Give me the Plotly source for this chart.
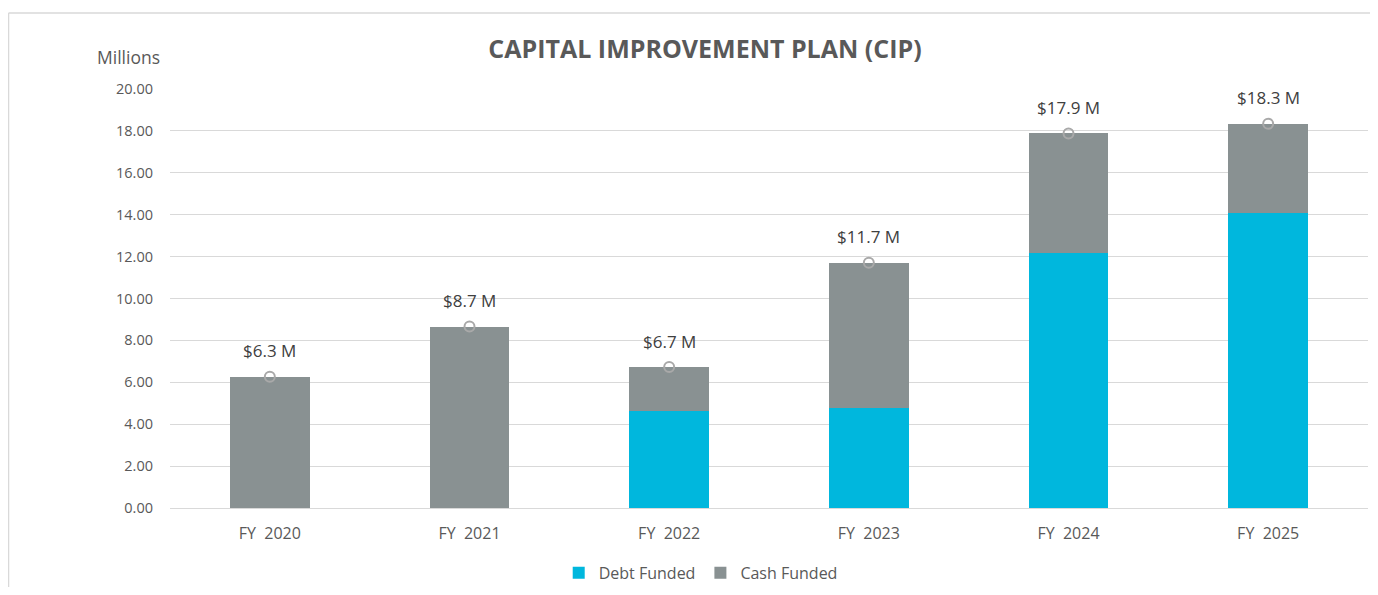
import plotly.graph_objects as go

categories = ["FY\u00a0 2020", "FY\u00a0 2021", "FY\u00a0 2022", "FY\u00a0 2023", "FY\u00a0 2024", "FY\u00a0 2025"]
debt_funded = [0.0, 0.0, 4.63, 4.79, 12.19, 14.07]
cash_funded = [6.27, 8.66, 2.10, 6.92, 5.69, 4.27]
totals = [6.27, 8.66, 6.73, 11.71, 17.88, 18.34]
total_labels = ["$6.3 M", "$8.7 M", "$6.7 M", "$11.7 M", "$17.9 M", "$18.3 M"]
y_ticks = [0, 2, 4, 6, 8, 10, 12, 14, 16, 18, 20]

FONT = "Open Sans"
TEAL = "#00B7DD"
GRAY = "#899192"
TXT = "#595959"

fig = go.Figure()
fig.add_trace(go.Bar(x=categories, y=debt_funded, name="Debt Funded",
                     marker=dict(color=TEAL, line=dict(width=0))))
fig.add_trace(go.Bar(x=categories, y=cash_funded, name="Cash Funded",
                     marker=dict(color=GRAY, line=dict(width=0))))
fig.add_trace(go.Scatter(x=categories, y=totals, mode="markers", showlegend=False,
                         marker=dict(symbol="circle-open", size=10, color="#A9A9A9",
                                     line=dict(width=2, color="#A9A9A9")),
                         hoverinfo="skip"))

annotations = []
for c, t, lab in zip(categories, totals, total_labels):
    annotations.append(dict(x=c, y=t, text=lab, showarrow=False, yshift=26,
                            font=dict(family=FONT, size=17, color="#404040")))
annotations.append(dict(xref="paper", yref="paper", x=-0.035, y=1.076, text="Millions",
                        showarrow=False, xanchor="center", yanchor="middle",
                        font=dict(family=FONT, size=17.5, color=TXT)))

shapes = [
    dict(type="line", xref="paper", yref="paper", x0=-0.1348, x1=1.002, y0=1.1814, y1=1.1814,
         line=dict(color="#D9D9D9", width=1.5)),
    dict(type="line", xref="paper", yref="paper", x0=-0.1348, x1=-0.1348, y0=1.1814, y1=-0.25,
         line=dict(color="#D9D9D9", width=1.5)),
]

fig.update_layout(
    width=1362, height=579,
    margin=dict(l=162, r=2, t=81, b=79, autoexpand=False),
    barmode="stack", bargap=0.6,
    paper_bgcolor="white", plot_bgcolor="white",
    title=dict(text="<b>CAPITAL IMPROVEMENT PLAN (CIP)</b>", xref="paper", x=0.4466,
               xanchor="center", yref="container", y=1 - 41 / 579, yanchor="middle",
               font=dict(family=FONT, size=25, color=TXT)),
    font=dict(family=FONT, size=15, color=TXT),
    legend=dict(orientation="h", x=0.443, xanchor="center", y=-0.155, yanchor="middle",
                font=dict(family=FONT, size=16, color=TXT), itemwidth=30,
                traceorder="normal"),
    annotations=annotations, shapes=shapes,
    xaxis=dict(showgrid=False, showline=False, ticks="", ticklabelstandoff=14,
               automargin=False, tickfont=dict(size=16, color=TXT)),
    yaxis=dict(range=[0, 20], tickvals=y_ticks, tickformat=".2f", showgrid=True,
               gridcolor="#D9D9D9", gridwidth=1, zeroline=True, zerolinecolor="#D9D9D9",
               zerolinewidth=1, showline=False, ticks="", ticklabelstandoff=16,
               automargin=False, tickfont=dict(size=14.5, color=TXT)),
)

fig.write_html("out.html")
